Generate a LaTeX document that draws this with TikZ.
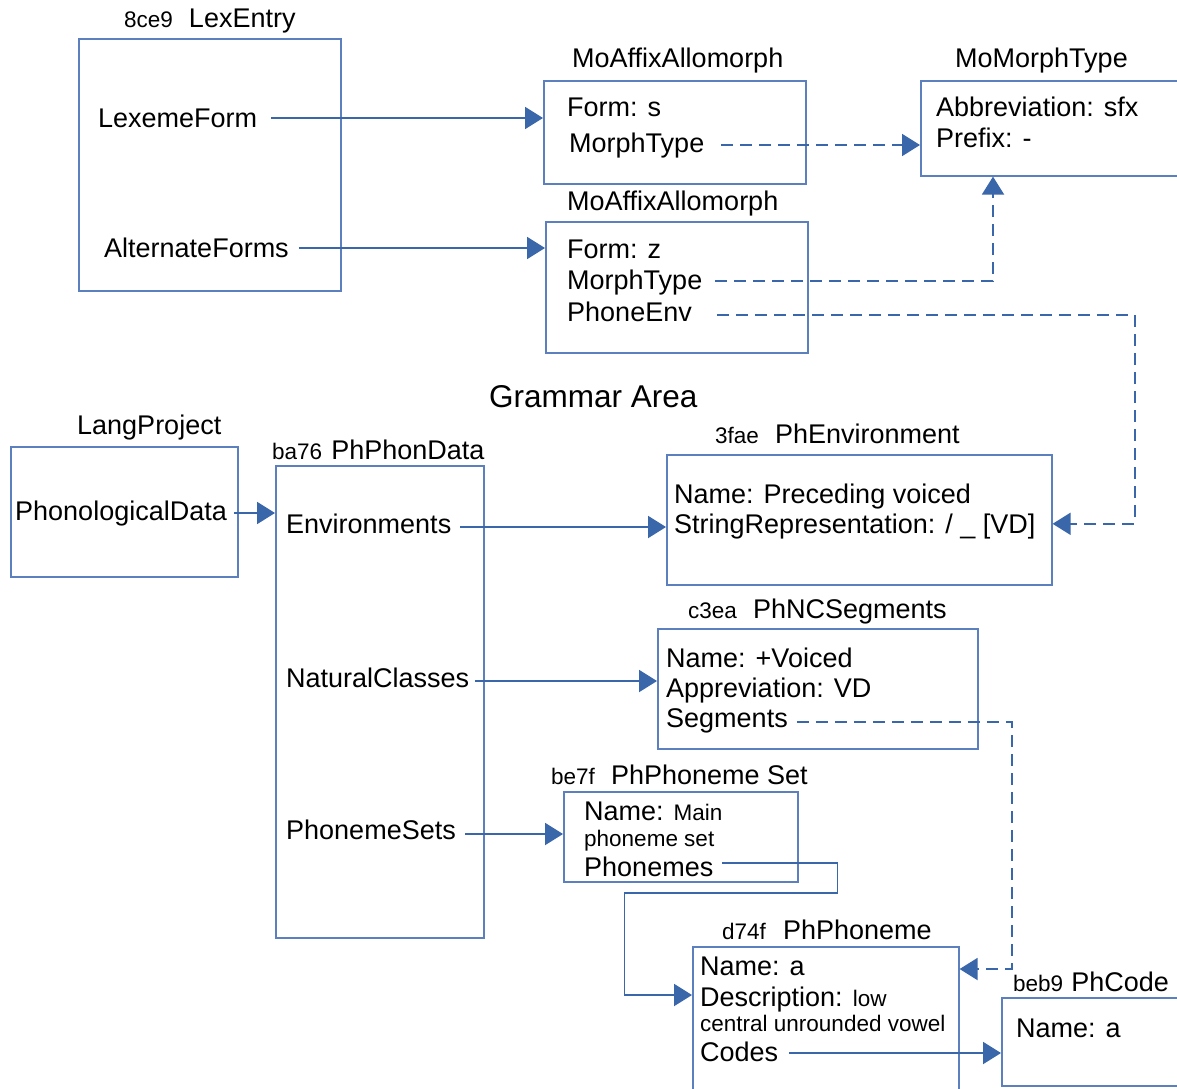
\documentclass[tikz,border=0pt]{standalone}
\usepackage{fontspec}
\setmainfont{Liberation Sans}
\usetikzlibrary{arrows.meta}
\definecolor{boxc}{RGB}{92,128,190}
\definecolor{arrc}{RGB}{58,102,170}
\newcommand{\smallfs}{\fontsize{22.5}{26}\selectfont}
\newcommand{\mainfs}{\fontsize{27}{31}\selectfont}
\begin{document}
\begin{tikzpicture}[x=1pt,y=-1pt,
  box/.style={draw=boxc, line width=1.6pt, inner sep=0pt, anchor=north west},
  txt/.style={font=\mainfs, inner sep=0pt, anchor=west, text height=19.3pt, text depth=0pt},
  arr/.style={draw=arrc, line width=1.9pt, -{Triangle[length=18pt,width=22pt]}},
  darr/.style={arr, dash pattern=on 12pt off 7pt},
  ln/.style={draw=arrc, line width=1.9pt}]
\path[use as bounding box, clip] (0,0) rectangle (1177,1088);
\fill[white] (0,0) rectangle (1177,1088);

% boxes
\node[box, minimum width=262, minimum height=252] (lex) at (78,38) {};
\node[box, minimum width=262, minimum height=103] (aff1) at (543,80) {};
\node[box, minimum width=275, minimum height=95] (mmt) at (920,80) {};
\node[box, minimum width=262, minimum height=131] (aff2) at (545,221) {};
\node[box, minimum width=227, minimum height=130] (lp) at (10,446) {};
\node[box, minimum width=208, minimum height=472] (phd) at (275,465) {};
\node[box, minimum width=385, minimum height=130] (penv) at (666,454) {};
\node[box, minimum width=320, minimum height=120] (pnc) at (657,628) {};
\node[box, minimum width=234, minimum height=90] (pset) at (563,791) {};
\node[box, minimum width=266, minimum height=160] (phon) at (692,946) {};
\node[box, minimum width=195, minimum height=88] (phc) at (1001,997) {};

% titles
\node[txt] (lexT) at (124,18) {{\smallfs 8ce9}\hspace{16pt}LexEntry};
\node[txt] (aff1T) at (572,58) {MoAffixAllomorph};
\node[txt] (mmtT) at (955,58) {MoMorphType};
\node[txt] (aff2T) at (567,201) {MoAffixAllomorph};
\node[txt, font=\fontsize{31.5}{36}\selectfont, text height=22.5pt] (ga) at (489,396) {Grammar Area};
\node[txt] (lpT) at (77,425) {LangProject};
\node[txt] (phdT) at (272,450) {{\smallfs ba76}\hspace{9pt}PhPhonData};
\node[txt] (penvT) at (715,434) {{\smallfs 3fae}\hspace{16pt}PhEnvironment};
\node[txt] (pncT) at (688,609) {{\smallfs c3ea}\hspace{16pt}PhNCSegments};
\node[txt] (psetT) at (551,775) {{\smallfs be7f}\hspace{16pt}PhPhoneme Set};
\node[txt] (phonT) at (722,930) {{\smallfs d74f}\hspace{17pt}PhPhoneme};
\node[txt] (phcT) at (1013,982) {{\smallfs beb9}\hspace{8pt}PhCode};

% contents
\node[txt] (lexF) at (98,118) {LexemeForm};
\node[txt] (altF) at (104,248) {AlternateForms};
\node[txt] (f1) at (567,107) {Form: s};
\node[txt] (mt1) at (569,143) {MorphType};
\node[txt] (abbr) at (936,107) {Abbreviation: sfx};
\node[txt] (pref) at (936,138) {Prefix: -};
\node[txt] (f2) at (567,249) {Form: z};
\node[txt] (mt2) at (567,280) {MorphType};
\node[txt] (pe) at (567,312) {PhoneEnv};
\node[txt] (pdata) at (15,511) {PhonologicalData};
\node[txt] (env) at (286,524) {Environments};
\node[txt] (nc) at (286,678) {NaturalClasses};
\node[txt] (ps) at (286,830) {PhonemeSets};
\node[txt] (envN) at (674,494) {Name: Preceding voiced};
\node[txt] (envS) at (674,524) {StringRepresentation: / \_ [VD]};
\node[txt] (ncN) at (666,658) {Name: +Voiced};
\node[txt] (ncA) at (666,688) {Appreviation: VD};
\node[txt] (seg) at (666,718) {Segments};
\node[txt] (psN) at (584,811) {Name: {\smallfs Main}};
\node[txt, font=\smallfs, text height=16pt] (psN2) at (584,838) {phoneme set};
\node[txt] (phs) at (584,867) {Phonemes};
\node[txt] (phN) at (700,966) {Name: a};
\node[txt] (phD) at (700,997) {Description: {\smallfs low}};
\node[txt, font=\smallfs, text height=16pt] (phD2) at (700,1023) {central unrounded vowel};
\node[txt] (codes) at (700,1052) {Codes};
\node[txt] (pcN) at (1016,1028) {Name: a};

% connectors
\draw[arr] ([xshift=14pt]lexF.east) -- (lexF.east -| aff1.west);
\draw[arr] ([xshift=10pt]altF.east) -- (altF.east -| aff2.west);
\draw[darr] ([xshift=17pt,yshift=-2pt]mt1.east) -- ([yshift=-2pt]mt1.east -| mmt.west);
\draw[darr] ([xshift=13pt,yshift=-1pt]mt2.east) -| ([xshift=73pt]mmt.south west);
\draw[darr] ([xshift=25pt,yshift=-3pt]pe.east) -| ([xshift=82pt,yshift=-4pt]penv.east) -- ([yshift=-4pt]penv.east);
\draw[arr] ([xshift=7pt,yshift=-2pt]pdata.east) -- ([yshift=-2pt]pdata.east -| phd.west);
\draw[arr] ([xshift=9pt,yshift=-3pt]env.east) -- ([yshift=-3pt]env.east -| penv.west);
\draw[arr] ([xshift=6pt,yshift=-3pt]nc.east) -- ([yshift=-3pt]nc.east -| pnc.west);
\draw[arr] ([xshift=9pt,yshift=-4pt]ps.east) -- ([yshift=-4pt]ps.east -| pset.west);
\draw[darr] ([xshift=9pt,yshift=-4pt]seg.east) -| ([xshift=52pt,yshift=-23pt]phon.north east) -- ([yshift=-23pt]phon.north east);
\draw[arr] ([xshift=9pt,yshift=4pt]phs.east) -- ++(115,0) -- ++(0,30) -- ++(-213,0) |- ([yshift=-49pt]phon.north west);
\draw[arr] ([xshift=11pt,yshift=-1pt]codes.east) -- ([yshift=-1pt]codes.east -| phc.west);
\end{tikzpicture}
\end{document}
